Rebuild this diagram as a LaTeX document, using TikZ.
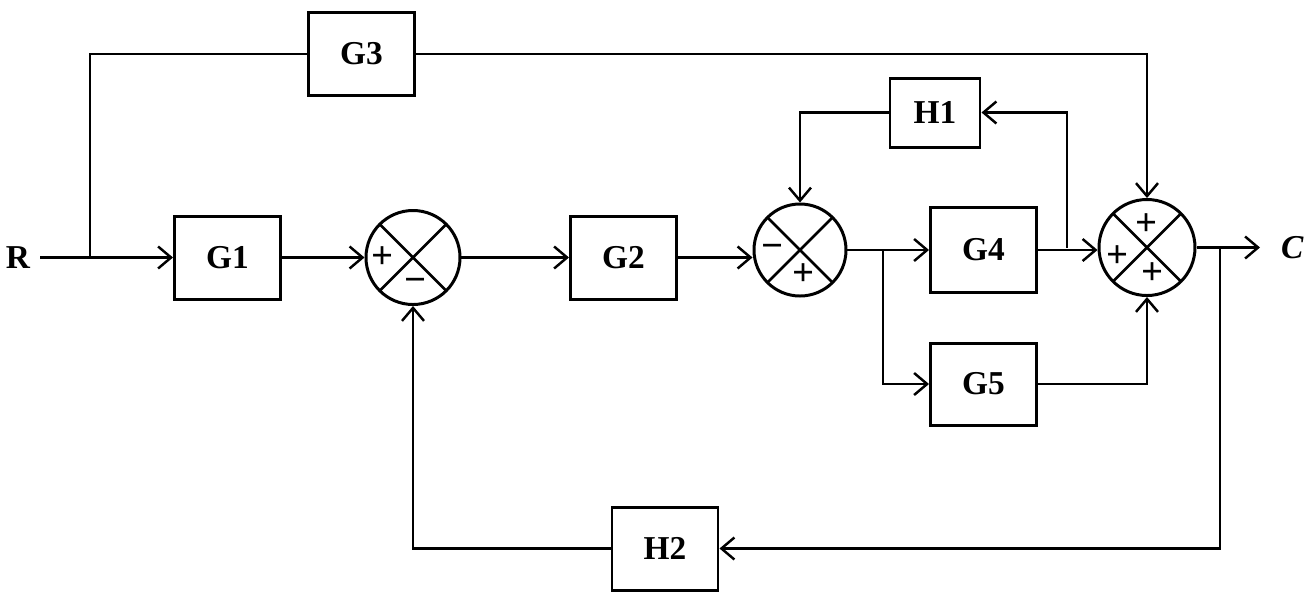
\documentclass[tikz,border=0pt]{standalone}
\usepackage{fontspec}
\usepackage{amsmath}
\setmainfont{Liberation Serif}
\usetikzlibrary{arrows.meta, positioning, calc}

\tikzset{
    block/.style={draw, line width=1.7pt, minimum width=2.12cm, minimum height=1.66cm, font=\fontsize{19}{22}\selectfont\bfseries},
    sumjn/.style={draw, circle, line width=1.7pt, minimum size=1.88cm, inner sep=0pt,
        path picture={
            \draw[line width=1.5pt] (path picture bounding box.south west) -- (path picture bounding box.north east)
                (path picture bounding box.north west) -- (path picture bounding box.south east);
        }},
    sgn/.style={font=\fontsize{22}{22}\selectfont\bfseries, inner sep=0pt},
    wire/.style={line width=1.6pt},
}

\begin{document}
\begin{tikzpicture}[
    >={Straight Barb[length=2.6mm, width=4.4mm, line width=1.4pt]},
]
    \useasboundingbox (0, 0) rectangle (26.08, -11.88);

    % input
    \node[font=\fontsize{19}{22}\selectfont\bfseries] (R) at (0.36, -5.15) {R};
    \coordinate (rin) at (0.8, -5.15);
    \coordinate (b1) at (1.8, -5.15);

    % forward path
    \node[block] (G1) at (4.55, -5.15) {G1};
    \node[block] (G3) at (7.23, -1.08) {G3};
    \node[sumjn] (S1) at (8.26, -5.15) {};
    \node[block] (G2) at (12.47, -5.15) {G2};
    \node[sumjn, minimum size=1.84cm] (S2) at (16.0, -5.0) {};
    \node[block, minimum height=1.7cm] (G4) at (19.67, -5.0) {G4};
    \node[block, minimum height=1.64cm] (G5) at (19.67, -7.68) {G5};
    \node[block, minimum width=1.8cm, minimum height=1.38cm] (H1) at (18.7, -2.25) {H1};
    \node[sumjn, minimum size=1.92cm] (S3) at (22.94, -4.95) {};
    \node[block] (H2) at (13.3, -10.97) {H2};

    % signs
    \node[sgn] (s1a) at ($(S1)+(-0.6, 0.0)$) {+};
    \node[sgn] (s1b) at ($(S1)+(0.05, -0.55)$) {\textminus};
    \node[sgn] (s2a) at ($(S2)+(-0.55, -0.03)$) {\textminus};
    \node[sgn] (s2b) at ($(S2)+(0.08, -0.5)$) {+};
    \node[sgn] (s3a) at ($(S3)+(0.0, 0.46)$) {+};
    \node[sgn] (s3b) at ($(S3)+(-0.58, -0.18)$) {+};
    \node[sgn] (s3c) at ($(S3)+(0.12, -0.52)$) {+};

    % branch points
    \coordinate (b2) at (17.66, -5.0);
    \coordinate (b3) at (21.34, -4.95);
    \coordinate (b4) at (24.4, -4.95);
    \coordinate (cout) at (25.2, -4.95);
    \node[font=\fontsize{19}{22}\selectfont\bfseries\itshape, right=0.3cm of cout] (C) {C};

    % connectors
    \draw[wire, ->] (rin) -- (G1);
    \draw[wire] (b1) |- (G3);
    \draw[wire, ->] (G3) -| (S3);
    \draw[wire, ->] (G1) -- (S1);
    \draw[wire, ->] (S1) -- (G2);
    \draw[wire, ->] (G2.east) -- (G2.east -| S2.west);
    \draw[wire] (S2) -- (b2);
    \draw[wire, ->] (b2) -- (G4);
    \draw[wire, ->] (b2) |- (G5);
    \draw[wire, ->] (G4.east) -- (G4.east -| S3.west);
    \draw[wire, ->] (b3) |- (H1);
    \draw[wire, ->] (H1) -| (S2);
    \draw[wire, ->] (G5) -| (S3);
    \draw[wire, ->] (S3) -- (cout);
    \draw[wire, ->] (b4) |- (H2);
    \draw[wire, ->] (H2) -| (S1);
\end{tikzpicture}
\end{document}
